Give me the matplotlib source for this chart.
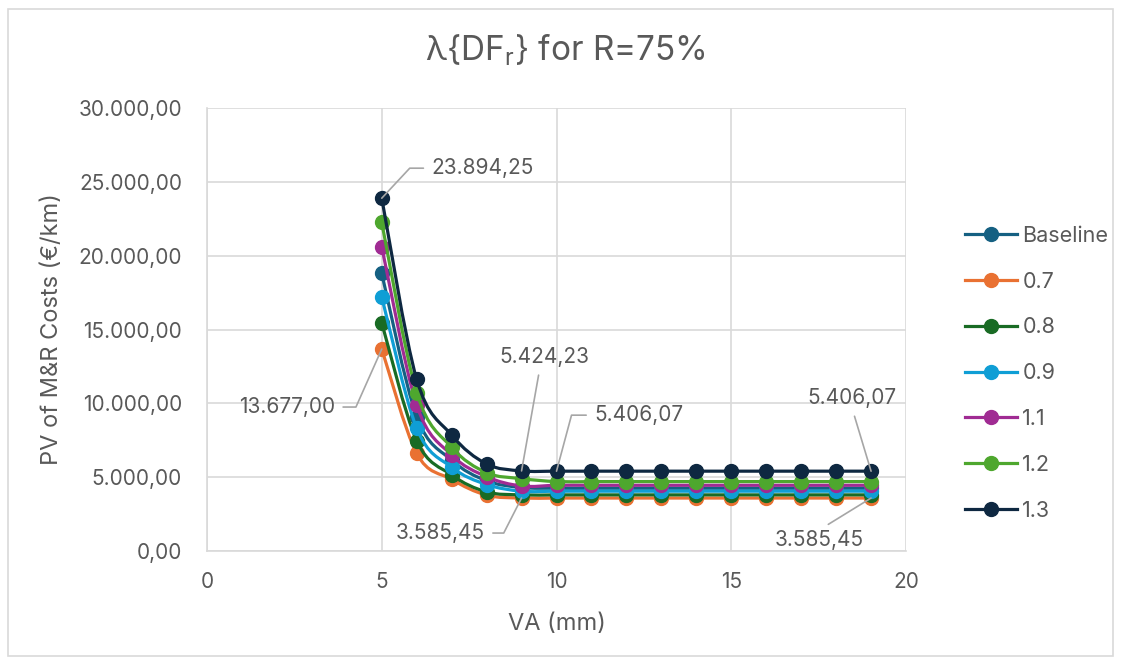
import numpy as np
import matplotlib
matplotlib.use('Agg')
import matplotlib.pyplot as plt
from matplotlib.path import Path
from matplotlib.patches import PathPatch, Rectangle
from matplotlib.lines import Line2D
from matplotlib.ticker import FuncFormatter, MultipleLocator

plt.rcParams['font.family'] = ['Inter', 'DejaVu Sans']

# VA (mm)
va = [5, 6, 7, 8, 9, 10, 11, 12, 13, 14, 15, 16, 17, 18, 19]

# PV of M&R costs per DF_r factor
baseline = [18800, 9100, 6150, 4750, 4300, 4250, 4250, 4250, 4250, 4250, 4250, 4250, 4250, 4250, 4250]
f07 = [13677.00, 6610, 4850, 3780, 3585.45, 3585.45, 3585.45, 3585.45, 3585.45, 3585.45, 3585.45, 3585.45, 3585.45, 3585.45, 3585.45]
f08 = [15450, 7470, 5150, 4000, 3800, 3800, 3800, 3800, 3800, 3800, 3800, 3800, 3800, 3800, 3800]
f09 = [17200, 8310, 5670, 4500, 4050, 4050, 4050, 4050, 4050, 4050, 4050, 4050, 4050, 4050, 4050]
f11 = [20600, 9880, 6500, 5030, 4400, 4450, 4450, 4450, 4450, 4450, 4450, 4450, 4450, 4450, 4450]
f12 = [22250, 10720, 7020, 5300, 4900, 4700, 4700, 4700, 4700, 4700, 4700, 4700, 4700, 4700, 4700]
f13 = [23894.25, 11620, 7850, 5890, 5424.23, 5406.07, 5406.07, 5406.07, 5406.07, 5406.07, 5406.07, 5406.07, 5406.07, 5406.07, 5406.07]

labels = ['Baseline', '0.7', '0.8', '0.9', '1.1', '1.2', '1.3']
series = [baseline, f07, f08, f09, f11, f12, f13]
colors = ['#156082', '#E97132', '#196B24', '#0F9ED5', '#A02B93', '#4EA72E', '#0E2841']

txt = '#595959'
grid = '#D9D9D9'


def eu(v, pos=None):
    s = f'{v:,.2f}'
    return s.replace(',', 'X').replace('.', ',').replace('X', '.')


def smooth_path(x, y):
    # Catmull-Rom through the points, written as cubic Bezier segments
    x = np.asarray(x, float)
    y = np.asarray(y, float)
    p = np.column_stack([x, y])
    verts = [p[0]]
    codes = [Path.MOVETO]
    n = len(p)
    for i in range(n - 1):
        p0 = p[i - 1] if i > 0 else p[i]
        p1 = p[i]
        p2 = p[i + 1]
        p3 = p[i + 2] if i + 2 < n else p[i + 1]
        c1 = p1 + (p2 - p0) / 6.0
        c2 = p2 - (p3 - p1) / 6.0
        verts += [c1, c2, p2]
        codes += [Path.CURVE4] * 3
    return Path(verts, codes)


fig = plt.figure(figsize=(11.22, 6.64), dpi=100)
ax = fig.add_axes([0.1845, 0.1702, 0.623, 0.6671])

for vals, c in zip(series, colors):
    ax.add_patch(PathPatch(smooth_path(va, vals), facecolor='none', edgecolor=c,
                           lw=2.3, capstyle='round', joinstyle='round', zorder=3))
    ax.plot(va, vals, ls='none', marker='o', ms=10, color=c, mec=c, zorder=3)

ax.set_xlim(0, 20)
ax.set_ylim(0, 30000)
ax.xaxis.set_major_locator(MultipleLocator(5))
ax.yaxis.set_major_locator(MultipleLocator(5000))
ax.yaxis.set_major_formatter(FuncFormatter(eu))
ax.grid(True, color=grid, lw=1.2, zorder=0)
ax.set_axisbelow(True)
for s in ['top', 'right']:
    ax.spines[s].set_visible(False)
for s in ['left', 'bottom']:
    ax.spines[s].set_color(grid)
    ax.spines[s].set_linewidth(1.2)
ax.tick_params(length=0, colors=txt, labelsize=15)
ax.tick_params(axis='y', pad=18)
ax.tick_params(axis='x', pad=15)

ax.set_xlabel('VA (mm)', fontsize=17, color=txt, labelpad=15)
ax.set_ylabel('PV of M&R Costs (€/km)', fontsize=17, color=txt, labelpad=11)
fig.text(0.504, 0.925, r'λ{DF$_\mathregular{r}$} for R=75%', ha='center', va='center',
         fontsize=24, color=txt)

# data labels with leader lines
lead = dict(arrowstyle='-', color='#A6A6A6', lw=1.2, shrinkA=4, shrinkB=0)
notes = [
    (5, f13[0], (50, 30), 'left', (0, 0.5), 'angle,angleA=0,angleB=47,rad=0'),
    (5, f07[0], (-47, -58), 'right', (1, 0.5), 'angle,angleA=0,angleB=66,rad=0'),
    (9, f13[4], (23, 114), 'center', (0.45, 0), 'arc3'),
    (10, f13[5], (38, 56), 'left', (0, 0.5), 'angle,angleA=0,angleB=75,rad=0'),
    (19, f13[14], (-19, 73), 'center', (0.5, 0), 'arc3'),
    (9, f07[4], (-37, -35), 'right', (1, 0.5), 'angle,angleA=0,angleB=63,rad=0'),
    (19, f07[14], (-52, -42), 'center', (0.5, 1), 'arc3'),
]
for x, y, off, ha, rp, cs in notes:
    ax.annotate(eu(y), xy=(x, y), xytext=off, textcoords='offset pixels',
                ha=ha, va='center', fontsize=15, color=txt, zorder=5,
                arrowprops=dict(lead, relpos=rp, connectionstyle=cs))

handles = [Line2D([], [], color=c, lw=2.3, marker='o', ms=10) for c in colors]
leg = fig.legend(handles, labels, loc='center left', bbox_to_anchor=(0.843, 0.438),
                 frameon=False, fontsize=15.5, labelspacing=1.2, handlelength=2.4,
                 handletextpad=0.25, labelcolor=txt)

fig.patches.append(Rectangle((0.007, 0.012), 0.985, 0.975, transform=fig.transFigure,
                             fill=False, edgecolor=grid, lw=1.2))

fig.savefig('out.png', dpi=100)
